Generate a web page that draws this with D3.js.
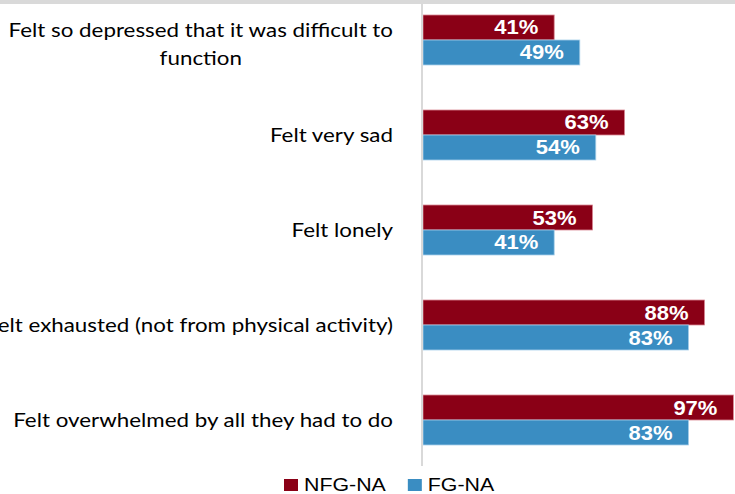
<!DOCTYPE html>
<html>
<head>
<meta charset="utf-8">
<script src="https://cdn.jsdelivr.net/npm/d3@7"></script>
<style>
  body { margin: 0; background: #fff; }
</style>
</head>
<body>
<div id="chart"></div>
<script>
// Data
var categories = [
  "Felt so depressed that it was difficult to\nfunction",
  "Felt very sad",
  "Felt lonely",
  "Felt exhausted (not from physical activity)",
  "Felt overwhelmed by all they had to do"
];
var seriesNames = ["NFG-NA", "FG-NA"];
var nfgValues = [41, 63, 53, 88, 97];
var fgValues = [49, 54, 41, 83, 83];
var seriesColors = ["#8a0016", "#3a8dc2"];
var seriesStrokes = ["#d98a96", "#a9d0ea"];

var width = 735, height = 494;
// the original picture is stretched sideways, so text gets a horizontal scale
var labelStretch = 1.177, valueStretch = 1.1, legendStretch = 1.22;

var svg = d3.select("#chart")
  .append("svg")
  .attr("width", width)
  .attr("height", height);

// light grey strip along the top
svg.append("rect")
  .attr("x", 0).attr("y", 0)
  .attr("width", width).attr("height", 4)
  .style("fill", "#d9d9d9");

var x = d3.scaleLinear().domain([0, 100]).range([423, 743]);

var y = d3.scaleBand()
  .domain(categories)
  .range([-7.5, 467.5])
  .paddingInner(0.4737)
  .paddingOuter(0.2368);

var ySub = d3.scaleBand()
  .domain(seriesNames)
  .range([0, y.bandwidth()]);

var rows = categories.map(function (c, i) {
  return { cat: c, values: [nfgValues[i], fgValues[i]] };
});

function barData(d) {
  return d.values.map(function (v, k) { return { name: seriesNames[k], value: v, k: k }; });
}

// bars
var groups = svg.selectAll("g.row")
  .data(rows)
  .enter()
  .append("g")
  .attr("class", "row")
  .attr("transform", function (d) { return "translate(0," + y(d.cat) + ")"; });

groups.selectAll("rect")
  .data(barData)
  .enter()
  .append("rect")
  .attr("x", x(0))
  .attr("y", function (d) { return ySub(d.name); })
  .attr("width", function (d) { return x(d.value) - x(0); })
  .attr("height", ySub.bandwidth())
  .style("fill", function (d) { return seriesColors[d.k]; })
  .style("stroke", function (d) { return seriesStrokes[d.k]; })
  .style("stroke-width", 0.8);

// value labels inside bar ends
groups.selectAll("text.val")
  .data(barData)
  .enter()
  .append("text")
  .attr("class", "val")
  .attr("transform", function (d) {
    return "translate(" + (x(d.value) - 16) + "," + (ySub(d.name) + ySub.bandwidth() / 2 + 7) + ") scale(" + valueStretch + ",1)";
  })
  .attr("text-anchor", "end")
  .style("font-family", "'Liberation Sans', Arial, sans-serif")
  .style("font-weight", "bold")
  .style("font-size", "20px")
  .style("fill", "#fff")
  .text(function (d) { return d.value + "%"; });

// vertical axis line
svg.append("line")
  .attr("x1", 422).attr("x2", 422)
  .attr("y1", 4).attr("y2", 466)
  .style("stroke", "#d9d9d9")
  .style("stroke-width", 2);

// category labels (multi-line ones are centred under the first line)
var labelRight = 393;
groups.each(function (d) {
  var lines = d.cat.split("\n");
  var mid = y.bandwidth() / 2;
  var t = d3.select(this).append("text")
    .attr("transform", "translate(" + labelRight + ",0) scale(" + labelStretch + ",1)")
    .style("font-family", "Lato, 'Open Sans', sans-serif")
    .style("font-size", "19px")
    .style("fill", "#000");
  if (lines.length === 1) {
    t.attr("x", 0)
      .attr("y", mid + 7)
      .attr("text-anchor", "end")
      .text(lines[0]);
  } else {
    var spans = lines.map(function (ln, i) {
      return t.append("tspan")
        .attr("x", 0)
        .attr("y", mid - 3 + i * 28)
        .text(ln);
    });
    var w = d3.max(spans, function (s) { return s.node().getComputedTextLength(); });
    t.attr("text-anchor", "middle");
    spans.forEach(function (s) { s.attr("x", -w / 2); });
  }
});

// legend
var legend = svg.append("g").attr("transform", "translate(284,479)");
var lx = 0;
seriesNames.forEach(function (name, k) {
  legend.append("rect")
    .attr("x", lx).attr("y", 0)
    .attr("width", 14).attr("height", 12)
    .style("fill", seriesColors[k]);
  var t = legend.append("text")
    .attr("transform", "translate(" + (lx + 20) + ",12) scale(" + legendStretch + ",1)")
    .style("font-family", "'Liberation Sans', Arial, sans-serif")
    .style("font-size", "17.5px")
    .style("fill", "#000")
    .text(name);
  lx += 20 + t.node().getComputedTextLength() * legendStretch + 22;
});
</script>
</body>
</html>
